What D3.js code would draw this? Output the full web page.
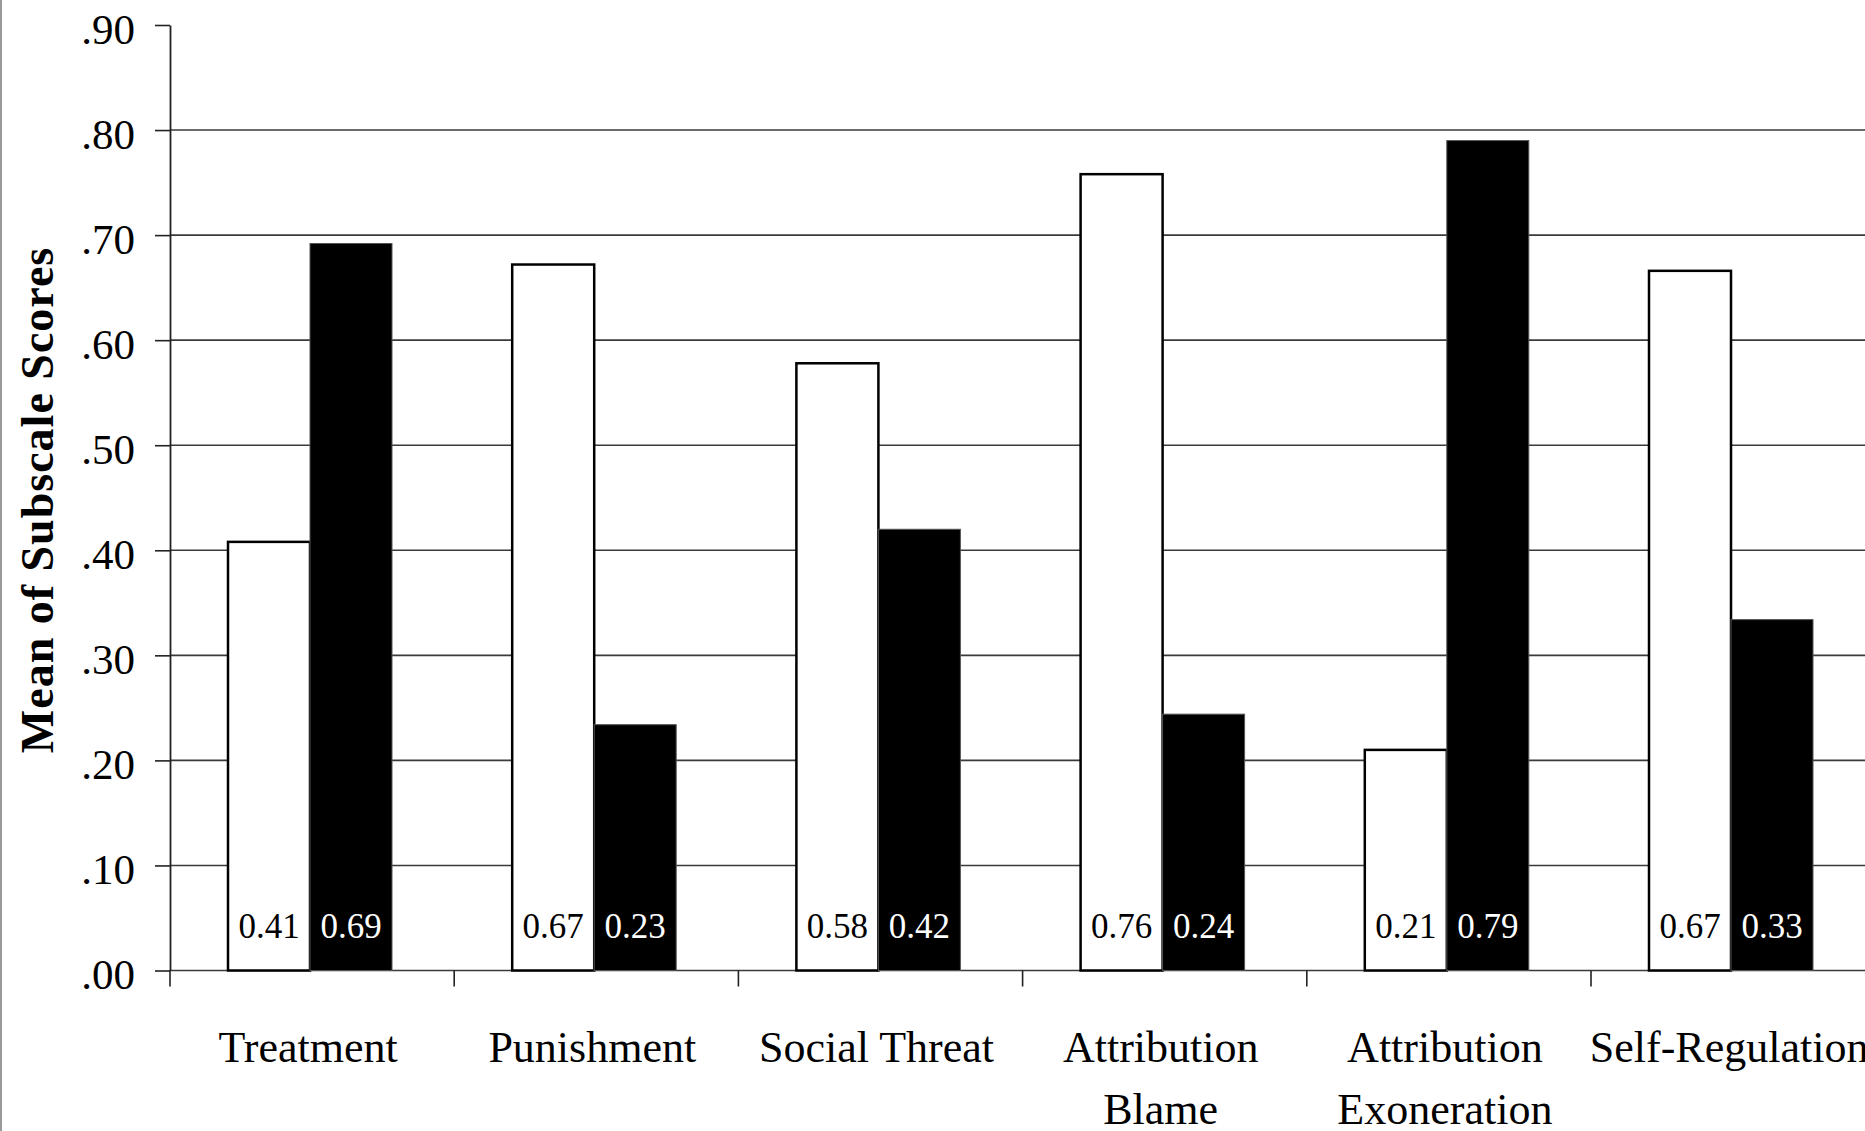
<!DOCTYPE html>
<html>
<head>
<meta charset="utf-8"/>
<title>Mean of Subscale Scores</title>
<script src="https://cdnjs.cloudflare.com/ajax/libs/d3/7.8.5/d3.min.js"></script>
<style>
  html, body { margin: 0; padding: 0; background: #fff; }
  svg text { font-family: "Liberation Serif", "Times New Roman", serif; fill: #000; }
</style>
</head>
<body>
<div id="chart"></div>
<script>
// category labels (second line where the label wraps)
var categories = ["Treatment", "Punishment", "Social Threat", "Attribution Blame", "Attribution Exoneration", "Self-Regulation"];
var labelLines = [["Treatment"], ["Punishment"], ["Social Threat"], ["Attribution", "Blame"], ["Attribution", "Exoneration"], ["Self-Regulation"]];

// white bars (first series) and black bars (second series)
var whiteValues = [0.408, 0.672, 0.578, 0.758, 0.210, 0.666];
var blackValues = [0.692, 0.234, 0.420, 0.244, 0.790, 0.334];

var yTicks = [0, 0.1, 0.2, 0.3, 0.4, 0.5, 0.6, 0.7, 0.8, 0.9];

var W = 1865, H = 1131;
var left = 170, bandW = 284.2;

var svg = d3.select('#chart').append('svg')
  .attr('width', W).attr('height', H);

// thin grey frame on the left edge
svg.append('line')
  .attr('x1', 1).attr('x2', 1).attr('y1', 0).attr('y2', H)
  .attr('stroke', '#999').attr('stroke-width', 2);

var y = d3.scaleLinear().domain([0, 0.9]).range([970.5, 25]);
var x = d3.scaleBand().domain(categories)
  .range([left, left + bandW * categories.length])
  .paddingInner(0).paddingOuter(0);
var xs = d3.scaleBand().domain(['white', 'black'])
  .range([58, 58 + 164]);

// gridlines (everything but the top tick)
svg.append('g').selectAll('line')
  .data(yTicks.filter(function(d) { return d < 0.85; }))
  .join('line')
  .attr('x1', left).attr('x2', W)
  .attr('y1', function(d) { return y(d); })
  .attr('y2', function(d) { return y(d); })
  .attr('stroke', '#3a3a3a').attr('stroke-width', 1.6);

// y axis
var yAxis = d3.axisLeft(y)
  .tickValues(yTicks)
  .tickSize(15)
  .tickSizeOuter(0)
  .tickPadding(20)
  .tickFormat(function(d) { return d3.format('.2f')(d).replace(/^0/, ''); });

var ya = svg.append('g')
  .attr('transform', 'translate(' + left + ',0)')
  .call(yAxis);
ya.select('.domain').attr('stroke', '#222').attr('stroke-width', 1.8);
ya.selectAll('.tick line').attr('stroke', '#222').attr('stroke-width', 1.6);
ya.selectAll('.tick text')
  .attr('font-size', 43)
  .attr('dy', '0.42em')
  .style('font-family', '"Liberation Serif", "Times New Roman", serif');

// bottom axis ticks at category boundaries
var bounds = categories.map(function(c) { return x(c); });
svg.append('g').selectAll('line')
  .data(bounds)
  .join('line')
  .attr('x1', function(d) { return d; }).attr('x2', function(d) { return d; })
  .attr('y1', y(0)).attr('y2', y(0) + 16)
  .attr('stroke', '#222').attr('stroke-width', 1.6);

// bars
var groups = svg.append('g').selectAll('g')
  .data(categories)
  .join('g')
  .attr('transform', function(d) { return 'translate(' + x(d) + ',0)'; });

groups.append('rect')
  .attr('x', xs('white'))
  .attr('width', xs.bandwidth())
  .attr('y', function(d, i) { return y(whiteValues[i]); })
  .attr('height', function(d, i) { return y(0) - y(whiteValues[i]); })
  .attr('fill', '#fff').attr('stroke', '#000').attr('stroke-width', 2.5);

groups.append('rect')
  .attr('x', xs('black'))
  .attr('width', xs.bandwidth())
  .attr('y', function(d, i) { return y(blackValues[i]); })
  .attr('height', function(d, i) { return y(0) - y(blackValues[i]); })
  .attr('fill', '#000').attr('stroke', '#555').attr('stroke-width', 1);

// value labels inside the bars
groups.append('text')
  .attr('x', xs('white') + xs.bandwidth() / 2)
  .attr('y', 938)
  .attr('text-anchor', 'middle')
  .attr('font-size', 35)
  .text(function(d, i) { return whiteValues[i].toFixed(2); });

groups.append('text')
  .attr('x', xs('black') + xs.bandwidth() / 2)
  .attr('y', 938)
  .attr('text-anchor', 'middle')
  .attr('font-size', 35)
  .style('fill', '#fff')
  .text(function(d, i) { return blackValues[i].toFixed(2); });

// category labels
var lbl = groups.append('text')
  .attr('text-anchor', 'middle')
  .attr('font-size', 44);
lbl.selectAll('tspan')
  .data(function(d, i) { return labelLines[i]; })
  .join('tspan')
  .attr('x', x.bandwidth() / 2 - 4)
  .attr('y', function(d, j) { return 1062 + j * 62; })
  .text(function(d) { return d; });

// y axis title
svg.append('text')
  .attr('transform', 'translate(53,500) rotate(-90)')
  .attr('text-anchor', 'middle')
  .attr('font-size', 46)
  .attr('letter-spacing', 1)
  .attr('font-weight', 'bold')
  .text('Mean of Subscale Scores');
</script>
</body>
</html>
